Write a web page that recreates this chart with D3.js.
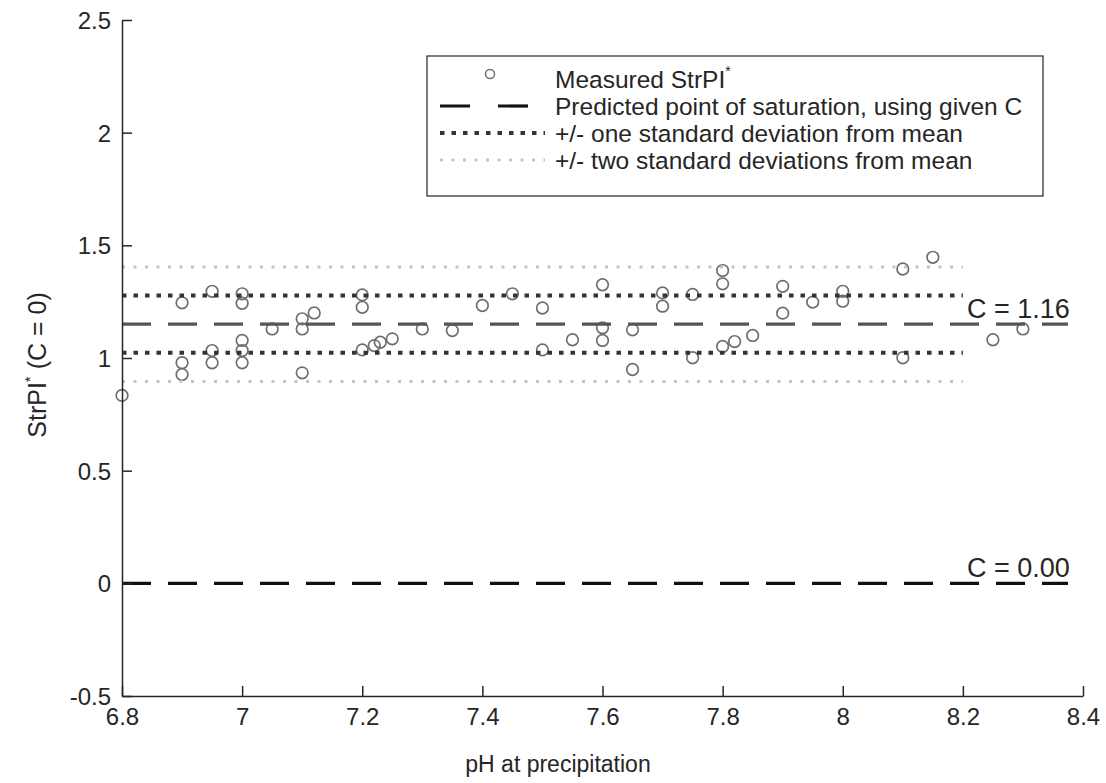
<!DOCTYPE html>
<html><head><meta charset="utf-8">
<script src="https://cdn.jsdelivr.net/npm/d3@7"></script>
<style>body{margin:0;background:#fff} text{font-family:"Liberation Sans",Arial,sans-serif;fill:#262626}</style>
</head><body><svg id="c" width="1106" height="783"></svg>
<script>
// ---- data ----
const pH = [6.8, 6.9, 6.9, 6.9, 6.95, 6.95, 6.95, 7.0, 7.0, 7.0, 7.0, 7.0, 7.05, 7.1, 7.1, 7.1, 7.12,
  7.2, 7.2, 7.2, 7.22, 7.23, 7.25, 7.3, 7.35, 7.4, 7.45, 7.5, 7.5, 7.55, 7.6, 7.6, 7.6, 7.65, 7.65,
  7.7, 7.7, 7.75, 7.75, 7.8, 7.8, 7.8, 7.82, 7.85, 7.9, 7.9, 7.95, 8.0, 8.0, 8.1, 8.1, 8.15, 8.25, 8.3];
const strpi = [0.834, 1.245, 0.979, 0.927, 1.296, 1.033, 0.979, 1.285, 1.243, 1.078, 1.033, 0.979, 1.129, 1.174, 1.129, 0.934, 1.200,
  1.280, 1.225, 1.036, 1.055, 1.070, 1.085, 1.129, 1.122, 1.233, 1.285, 1.222, 1.036, 1.081, 1.325, 1.134, 1.078, 1.125, 0.949,
  1.289, 1.230, 1.282, 1.001, 1.388, 1.329, 1.051, 1.073, 1.100, 1.318, 1.199, 1.248, 1.296, 1.252, 1.395, 1.001, 1.447, 1.081, 1.129];
const xTicks = [6.8, 7, 7.2, 7.4, 7.6, 7.8, 8, 8.2, 8.4];
const yTicks = [-0.5, 0, 0.5, 1, 1.5, 2, 2.5];
const predictedC = [1.15, 0];
const predictedLabels = ["C = 1.16", "C = 0.00"];
const meanVal = 1.15;
const sdVal = 0.127;
const sdMultiples = [1, 2];
const lineStart = 6.8, predictedEnd = 8.375, sdEnd = 8.2;
const legendLabels = ["Measured StrPI", "Predicted point of saturation, using given C",
  "+/- one standard deviation from mean", "+/- two standard deviations from mean"];

// ---- layout ----
const svg = d3.select("#c");
const L = 122, R = 1083, T = 20, B = 696;
const x = d3.scaleLinear().domain([6.8, 8.4]).range([L, R]);
const y = d3.scaleLinear().domain([-0.5, 2.5]).range([B, T]);
const FONT = '"Liberation Sans",Arial,sans-serif';

const sdStyle = {1: {stroke: "#333", w: 4, dash: "4.5,7"}, 2: {stroke: "#c4c4c4", w: 3, dash: "3,8.5"}};

// points
svg.append("g").selectAll("circle").data(pH).join("circle")
  .attr("cx", (d) => x(d)).attr("cy", (d, i) => y(strpi[i])).attr("r", 5.8)
  .attr("fill", "none").attr("stroke", "#6e6e6e").attr("stroke-width", 1.7);

// predicted lines
predictedC.forEach((c, i) => {
  svg.append("line").attr("x1", x(lineStart)).attr("x2", x(predictedEnd))
    .attr("y1", y(c)).attr("y2", y(c))
    .attr("stroke", i === 0 ? "#555" : "#111").attr("stroke-width", 3.2)
    .attr("stroke-dasharray", "29,17");
});
// sd lines
sdMultiples.forEach(m => {
  [1, -1].forEach(s => {
    const v = meanVal + s * m * sdVal;
    svg.append("line").attr("x1", x(lineStart)).attr("x2", x(sdEnd))
      .attr("y1", y(v)).attr("y2", y(v))
      .attr("stroke", sdStyle[m].stroke).attr("stroke-width", sdStyle[m].w)
      .attr("stroke-dasharray", sdStyle[m].dash);
  });
});
// labels for predicted lines
predictedC.forEach((c, i) => {
  svg.append("text").attr("x", x(8.378)).attr("y", y(c) - 6)
    .attr("text-anchor", "end").style("font-size", "27px").style("font-family", FONT).text(predictedLabels[i]);
});

// axes
const fmt = d => String(d);
const xAxis = d3.axisBottom(x).tickValues(xTicks).tickFormat(fmt)
  .tickSizeInner(-10).tickSizeOuter(0).tickPadding(12);
const yAxis = d3.axisLeft(y).tickValues(yTicks).tickFormat(fmt)
  .tickSizeInner(-10).tickSizeOuter(0).tickPadding(11);
const gx = svg.append("g").attr("transform", `translate(0,${B})`).call(xAxis);
const gy = svg.append("g").attr("transform", `translate(${L},0)`).call(yAxis);
[gx, gy].forEach(g => {
  g.selectAll("path,line").attr("stroke", "#262626").attr("stroke-width", 1.5);
  g.selectAll("text").style("font-size", "24px").attr("fill", "#262626").style("font-family", FONT);
});
gy.selectAll("text").attr("dy", "0.35em");

// axis titles
svg.append("text").attr("x", 558).attr("y", 772).attr("text-anchor", "middle")
  .style("font-size", "23px").style("font-family", FONT).text("pH at precipitation");
const yl = svg.append("text").attr("transform", `translate(46,365) rotate(-90)`)
  .attr("text-anchor", "middle").style("font-size", "25px").style("font-family", FONT);
yl.append("tspan").text("StrPI");
yl.append("tspan").attr("dy", -11).style("font-size", "15px").text("*");
yl.append("tspan").attr("dy", 11).text(" (C = 0)");

// legend
const lg = svg.append("g");
const lx = 427, ly = 56, lw = 616, lh = 140, rowH = 27, row0 = 79;
lg.append("rect").attr("x", lx).attr("y", ly).attr("width", lw).attr("height", lh)
  .attr("fill", "#fff").attr("stroke", "#262626").attr("stroke-width", 1.2);
const sx0 = 440, sx1 = 545, tx = 555;
legendLabels.forEach((lab, i) => {
  const ry = row0 + i * rowH;
  if (i === 0) {
    lg.append("circle").attr("cx", 490).attr("cy", ry - 5).attr("r", 4.5)
      .attr("fill", "none").attr("stroke", "#707070").attr("stroke-width", 1.5);
  } else if (i === 1) {
    lg.append("line").attr("x1", sx0).attr("x2", sx0 + 88).attr("y1", ry).attr("y2", ry)
      .attr("stroke", "#111").attr("stroke-width", 3.2).attr("stroke-dasharray", "30,28");
  } else {
    const st = sdStyle[i - 1];
    lg.append("line").attr("x1", sx0).attr("x2", sx1).attr("y1", ry).attr("y2", ry)
      .attr("stroke", st.stroke).attr("stroke-width", st.w).attr("stroke-dasharray", st.dash);
  }
  const t = lg.append("text").attr("x", tx).attr("y", ry).attr("dy", "0.35em")
    .style("font-size", "24.5px").style("font-family", FONT);
  t.append("tspan").text(lab);
  if (i === 0) t.append("tspan").attr("dy", -12).style("font-size", "14px").text("*");
});
</script></body></html>
